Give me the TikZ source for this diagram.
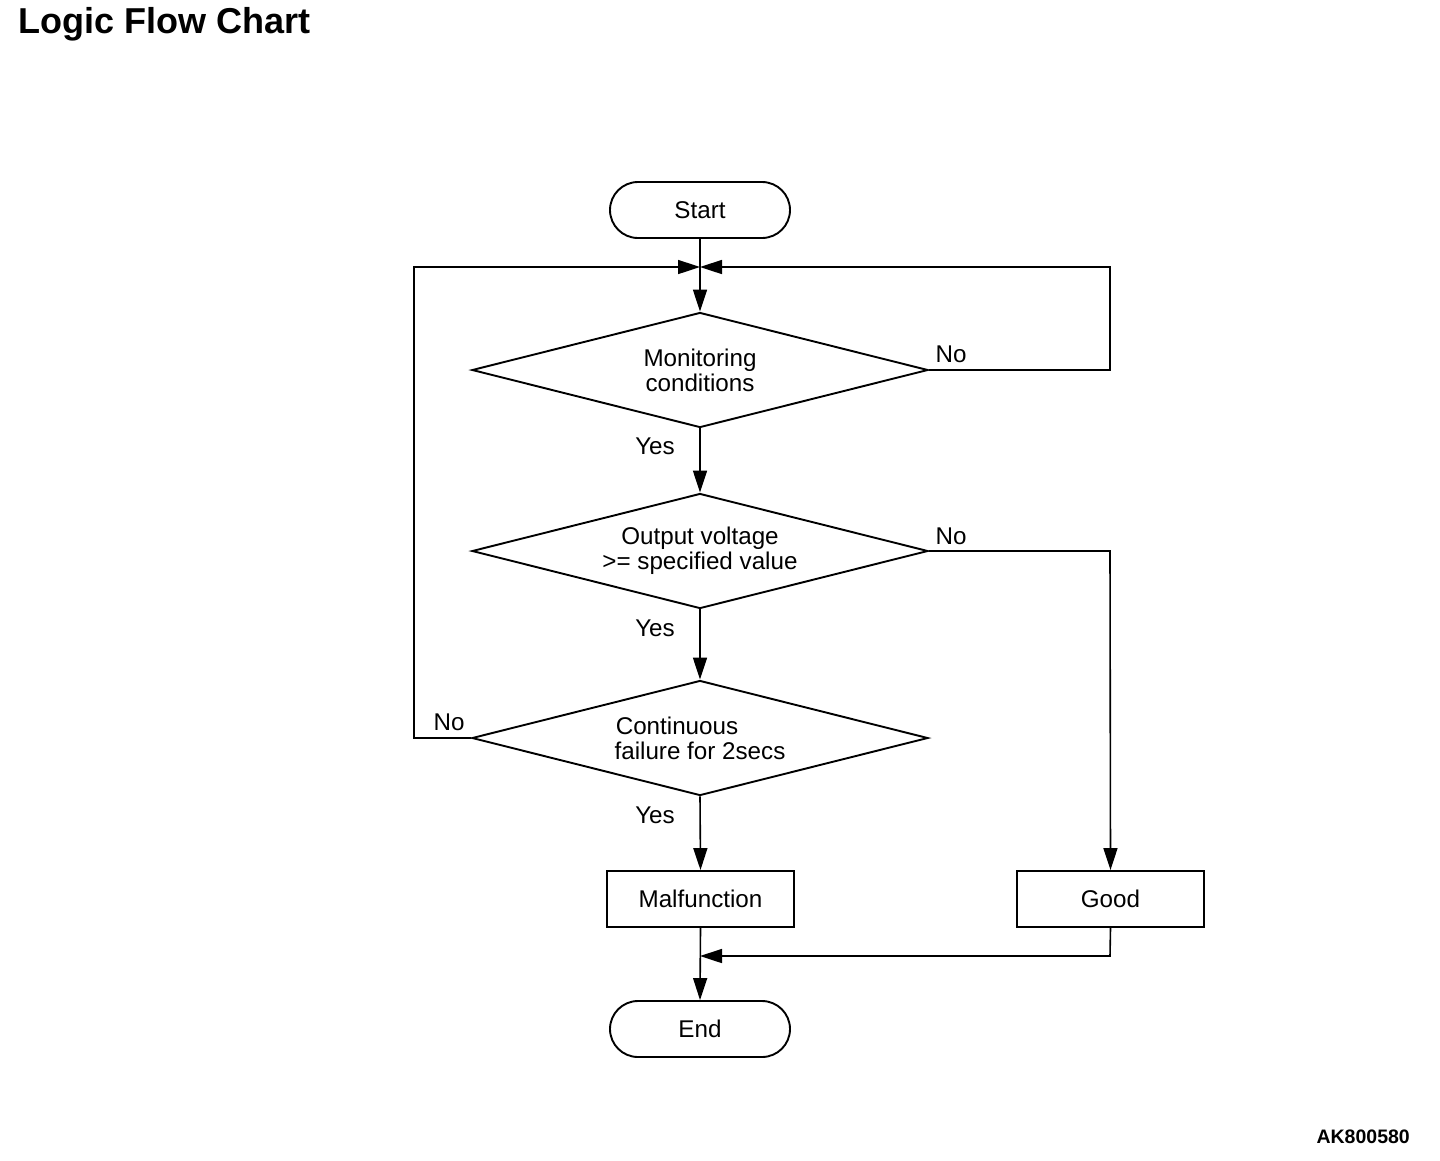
\documentclass[tikz,border=0pt]{standalone}
\usepackage{fontspec}
\setmainfont{Liberation Sans}
\usetikzlibrary{shapes.geometric,arrows.meta}
\begin{document}
\begin{tikzpicture}[x=1pt,y=-1pt,
  lbl/.style={font=\fontsize{24.2}{25}\selectfont},
  term/.style={draw,line width=1.9pt,rounded corners=28pt,minimum width=180pt,minimum height=56pt,lbl},
  procbox/.style={draw,line width=1.9pt,minimum width=187pt,minimum height=56pt,lbl},
  decision/.style={draw,diamond,aspect=3.965,line width=1.9pt,minimum width=456pt,minimum height=115pt,inner sep=0pt,align=center,lbl},
  conn/.style={line width=1.6pt},
  arr/.style={conn,-{Triangle[length=22pt,width=14pt]}},
  tag/.style={lbl,anchor=center}]
\useasboundingbox (0,0) rectangle (1440,1160);
\node[font=\fontsize{36}{40}\selectfont\bfseries,anchor=base west,inner sep=0pt] (title) at (18,33) {Logic Flow Chart};
\node[font=\fontsize{19.5}{20}\selectfont\bfseries,anchor=base east,inner sep=0pt] (code) at (1410,1143) {AK800580};
\node[term] (start) at (700,210) {Start};
\coordinate (merge) at (700,267);
\node[decision] (d1) at (700,370) {Monitoring\\conditions};
\node[decision] (d2) at (700,551) {Output voltage\\>= specified value};
\node[decision] (d3) at (700,738) {Continuous\hspace*{46pt}\\failure for 2secs};
\node[procbox] (mal) at (700.5,899) {Malfunction};
\node[procbox] (good) at (1110.5,899) {Good};
\node[term] (end) at (700,1029) {End};
\coordinate (join) at (700,956);
% main flow
\draw[conn] (start) -- (merge);
\draw[arr] (merge) -- (d1.north);
\draw[arr] (d1.south) -- (d2.north);
\draw[arr] (d2.south) -- (d3.north);
\draw[arr] (d3.south) -- (mal.north);
\draw[arr] (mal.south) -- (end.north);
% loops
\draw[arr] (d1.east) -- (1110,370) -- (1110,267) -- (merge);
\draw[arr] (d3.west) -- (414,738) -- (414,267) -- (merge);
\draw[arr] (d2.east) -- (1110,551) -- (good.north);
\draw[arr] (good.south) -- (1110,956) -- (join);
% labels
\node[tag] (n1) at (951,354) {No};
\node[tag] (y1) at (655,446) {Yes};
\node[tag] (n2) at (951,536) {No};
\node[tag] (y2) at (655,628) {Yes};
\node[tag] (n3) at (449,722) {No};
\node[tag] (y3) at (655,815) {Yes};
\end{tikzpicture}
\end{document}
